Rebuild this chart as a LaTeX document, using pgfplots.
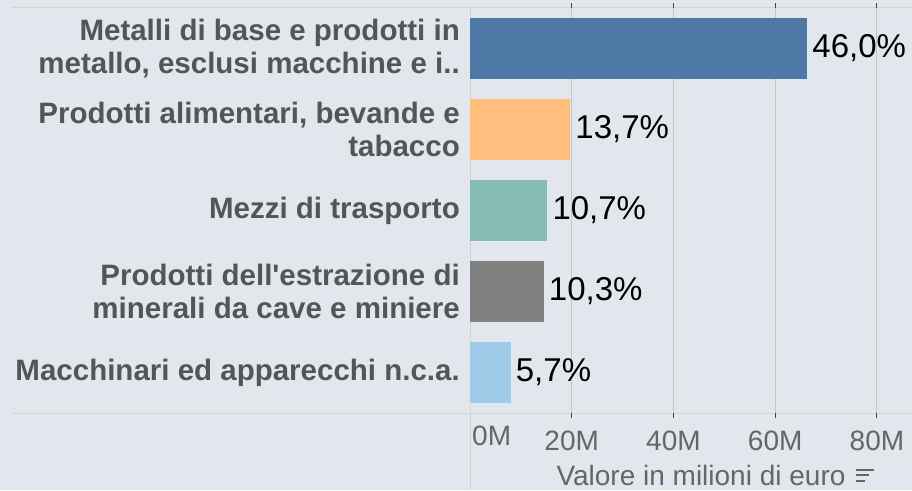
\documentclass[border=0pt]{standalone}
\usepackage{pgfplots}
\pgfplotsset{compat=1.18}
\usepackage{fontspec}
\setmainfont{Liberation Sans}
\definecolor{bg}{HTML}{E2E6ED}
\definecolor{hl}{HTML}{D2D4D8}
\definecolor{gridc}{HTML}{C4C6CA}
\definecolor{tickc}{HTML}{444444}
\definecolor{catc}{HTML}{555555}
\definecolor{labc}{HTML}{666666}
\definecolor{c1}{HTML}{4E79A7}
\definecolor{c2}{HTML}{FFBE7D}
\definecolor{c3}{HTML}{86BCB6}
\definecolor{c4}{HTML}{808080}
\definecolor{c5}{HTML}{A0CBE8}
\begin{document}
\begin{tikzpicture}[x=1pt,y=1pt]
\useasboundingbox (0,0) rectangle (912,490);
\fill[bg] (0,0) rectangle (912,490);
\draw[hl, line width=1pt] (12,482) -- (912,482);
\draw[hl, line width=1pt] (12,77) -- (912,77);
\draw[hl, line width=1pt] (470,0) -- (470,482);
\begin{axis}[
  scale only axis, width=442pt, height=405pt,
  at={(470pt,77pt)}, anchor=south west,
  xbar, bar width=61pt, bar shift=0pt,
  xmin=0, xmax=86.9, ymin=-0.5, ymax=4.5, y dir=reverse,
  axis line style={draw=none},
  clip=false,
  xmajorgrids, grid style={gridc, line width=1pt},
  xtick={20,40,60,80}, xticklabels={20M,40M,60M,80M},
  extra x ticks={0}, extra x tick labels={0M},
  extra x tick style={grid=none, major tick length=0pt, xticklabel style={anchor=north west, xshift=2pt}},
  tick align=outside, major tick length=5pt,
  xtick style={tickc, line width=1pt},
  xticklabel style={font=\fontsize{28}{30}\selectfont, text=labc, inner sep=0pt, yshift=-13pt},
  ytick={0,1,2,3,4}, ytick style={draw=none},
  yticklabels={{Metalli di base e prodotti in\\metallo, esclusi macchine e i..},
               {Prodotti alimentari, bevande e\\tabacco},
               {Mezzi di trasporto},
               {Prodotti dell\textquotesingle estrazione di\\minerali da cave e miniere},
               {Macchinari ed apparecchi n.c.a.}},
  yticklabel style={font=\fontsize{29.5}{32.5}\selectfont\bfseries, text=catc, align=right, inner sep=0pt, xshift=-5pt},
  xlabel={Valore in milioni di euro},
  xlabel style={at={(axis description cs:0.5,0)}, anchor=base, yshift=-72pt, xshift=10pt, font=\fontsize{28}{30}\selectfont, text=labc, inner sep=0pt},
  nodes near coords style={font=\fontsize{33}{36}\selectfont, text=black, inner sep=0pt, anchor=west, xshift=5pt},
]
\addplot[fill=c1, draw=none, nodes near coords={46,0\%}] coordinates {(66.3,0)};
\addplot[fill=c2, draw=none, nodes near coords={13,7\%}] coordinates {(19.7,1)};
\addplot[fill=c3, draw=none, nodes near coords={10,7\%}] coordinates {(15.2,2)};
\addplot[fill=c4, draw=none, nodes near coords={10,3\%}] coordinates {(14.5,3)};
\addplot[fill=c5, draw=none, nodes near coords={5,7\%}] coordinates {(8.0,4)};
\end{axis}
\draw[labc, line width=2pt] (856,20.5) -- (874,20.5);
\draw[labc, line width=2pt] (856,15) -- (869,15);
\draw[labc, line width=2pt] (856,9.5) -- (865,9.5);
\end{tikzpicture}
\end{document}
